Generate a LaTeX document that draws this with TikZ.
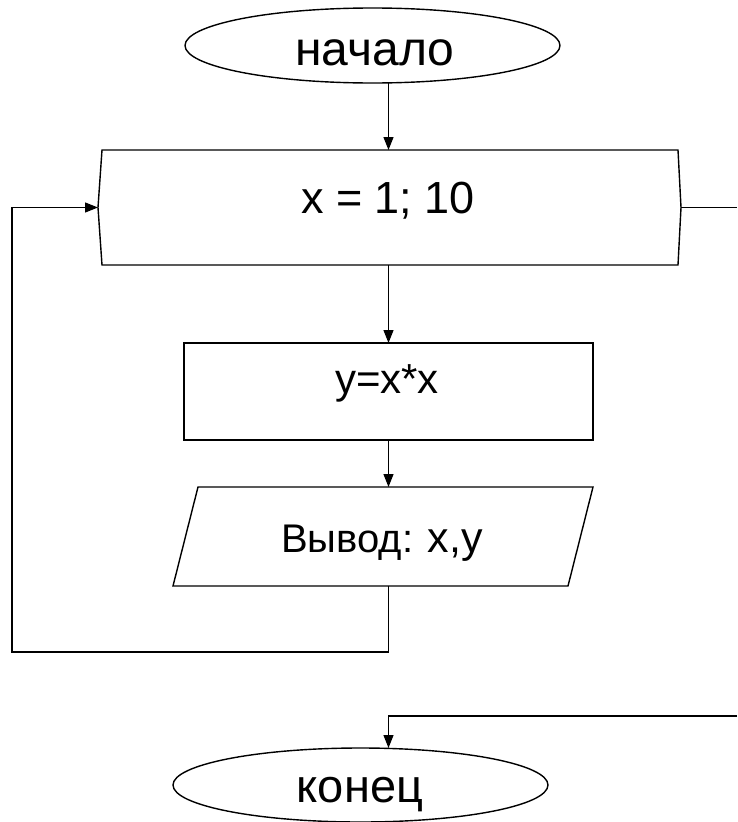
\documentclass[tikz,border=0pt]{standalone}
\usepackage{fontspec}
\setmainfont{Liberation Sans}
\usetikzlibrary{arrows.meta,calc,shapes.geometric}
\tikzset{
  shape line/.style={draw=black, line width=1.4pt},
  conn/.style={draw=black, line width=1.3pt},
  arr/.style={conn, -{Triangle[length=13pt,width=10pt]}},
  ghost/.style={draw=none, inner sep=0pt, outer sep=0pt},
  term/.style={ellipse, shape line, inner sep=0pt, outer sep=0pt},
  lbl/.style={anchor=base, inner sep=0pt},
}
\begin{document}
\begin{tikzpicture}[x=1pt,y=1pt]
\useasboundingbox (0,0) rectangle (737,-822);
% terminals
\node[term, minimum width=375pt, minimum height=75pt] (start) at (372.5,-45.5) {};
\node[lbl, font=\fontsize{48}{50}\selectfont] (starttext) at (375,-65) {начало};
\node[term, minimum width=375pt, minimum height=74pt] (endn) at (360.5,-785) {};
\node[lbl, font=\fontsize{47}{50}\selectfont] (endtext) at (360,-802) {конец};
% loop header
\node[ghost, minimum width=576pt, minimum height=115pt] (loop) at (390,-207.5) {};
\coordinate (loopW) at ($(loop.west)+(-4,0)$);
\coordinate (loopE) at ($(loop.east)+(3,0)$);
\draw[shape line] (loop.north west) -- (loop.north east) -- (loopE) -- (loop.south east)
  -- (loop.south west) -- (loopW) -- cycle;
\node[lbl, font=\fontsize{45}{47}\selectfont] (looptext) at (388,-213) {x = 1; 10};
% body
\node[rectangle, shape line, minimum width=409pt, minimum height=97pt, inner sep=0pt, outer sep=0pt] (body) at (388.5,-391.5) {};
\node[lbl, font=\fontsize{42}{44}\selectfont] (bodytext) at (387,-393) {y=x*x};
% output parallelogram
\node[ghost, minimum width=395pt, minimum height=99pt] (io) at (383,-536.5) {};
\draw[shape line] ($(io.north west)+(12.5,0)$) -- ($(io.north east)+(12.5,0)$)
  -- ($(io.south east)+(-12.5,0)$) -- ($(io.south west)+(-12.5,0)$) -- cycle;
\node[lbl] (iotext) at (382,-552) {\fontsize{40}{42}\selectfont Вывод: \fontsize{43}{45}\selectfont x,y};
% connectors
\coordinate (lb) at (12,-652);
\coordinate (rexit) at (737,-207.5);
\coordinate (rin) at (737,-716);
\draw[arr] (start.south -| body.north) -- (loop.north -| body.north);
\draw[arr] (loop.south -| body.north) -- (body.north);
\draw[arr] (body.south) -- (io.north -| body.south);
\draw[arr] (io.south -| body.south) |- (lb) |- (loopW);
\draw[conn] (loopE) -- (rexit);
\draw[arr] (rin) -| (endn.north -| body.north);
\end{tikzpicture}
\end{document}
